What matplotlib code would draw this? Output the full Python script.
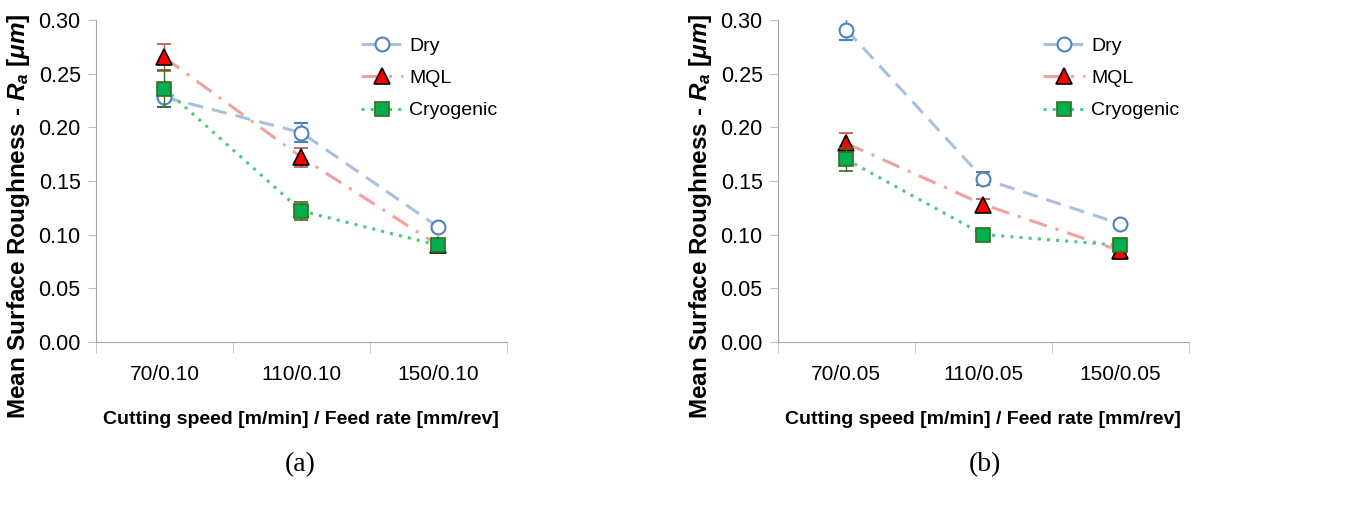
import matplotlib.pyplot as plt
import numpy as np

# categories for each panel
cats_a = ['70/0.10', '110/0.10', '150/0.10']
cats_b = ['70/0.05', '110/0.05', '150/0.05']

# mean surface roughness Ra [um]
dry_a = [0.228, 0.195, 0.107]
mql_a = [0.265, 0.172, 0.090]
cryo_a = [0.236, 0.122, 0.090]
dry_a_err = [0.009, 0.009, 0.003]
mql_a_err = [0.013, 0.009, 0.005]
cryo_a_err = [0.017, 0.008, 0.004]

dry_b = [0.291, 0.152, 0.110]
mql_b = [0.185, 0.128, 0.085]
cryo_b = [0.170, 0.100, 0.090]
dry_b_err = [0.010, 0.006, 0.003]
mql_b_err = [0.010, 0.005, 0.003]
cryo_b_err = [0.011, 0.004, 0.003]

yticks = [0.00, 0.05, 0.10, 0.15, 0.20, 0.25, 0.30]

plt.rcParams['font.family'] = ['Liberation Sans', 'DejaVu Sans']
plt.rcParams['mathtext.fontset'] = 'custom'
plt.rcParams['mathtext.it'] = 'Liberation Sans:italic:bold'
plt.rcParams['mathtext.rm'] = 'Liberation Sans:bold'

fig = plt.figure(figsize=(13.6, 5.11), dpi=100)
ax_a = fig.add_axes([0.0706, 0.331, 0.302, 0.630])
ax_b = fig.add_axes([0.572, 0.331, 0.302, 0.630])


def draw(ax, cats, dry, mql, cryo, dry_e, mql_e, cryo_e):
    x = np.arange(len(cats))
    ax.errorbar(x, dry, yerr=dry_e, color='#a7c0e0', ls=(0, (5, 3)), lw=2.2,
                marker='o', ms=10, mfc='white', mec='#4f81bd', mew=1.5,
                ecolor='#4f81bd', elinewidth=1, capsize=5, label='Dry', zorder=3)
    ax.errorbar(x, mql, yerr=mql_e, color='#f5a09b', ls=(0, (6, 3, 1, 3)), lw=2.2,
                marker='^', ms=12, mfc='#ff0000', mec='black', mew=1.2,
                ecolor='#c0504d', elinewidth=1, capsize=5, label='MQL', zorder=4)
    ax.errorbar(x, cryo, yerr=cryo_e, color='#4cc97a', ls=(0, (1, 2)), lw=2.2,
                marker='s', ms=10, mfc='#00b050', mec='#3a6b1f', mew=1.2,
                ecolor='#3a6b1f', elinewidth=1, capsize=5, label='Cryogenic', zorder=5)
    ax.set_xlim(-0.5, len(cats) - 0.5)
    ax.set_ylim(0, 0.30)
    ax.set_yticks(yticks)
    ax.set_yticklabels([f'{v:.2f}' for v in yticks])
    ax.set_xticks(x)
    ax.set_xticklabels(cats)
    ax.set_xticks(np.arange(-0.5, len(cats)), minor=True)
    ax.tick_params(axis='x', which='major', length=0, pad=17, labelsize=15)
    ax.tick_params(axis='x', which='minor', length=8, color='#bfbfbf')
    ax.tick_params(axis='y', length=6, color='#bfbfbf', labelsize=15.5, pad=5)
    for s in ['top', 'right']:
        ax.spines[s].set_visible(False)
    for s in ['left', 'bottom']:
        ax.spines[s].set_color('#a6a6a6')
    ax.set_xlabel('Cutting speed [m/min] / Feed rate [mm/rev]', fontsize=14,
                  fontweight='bold')
    ax.xaxis.set_label_coords(0.5, -0.215)
    ax.set_ylabel(r'Mean Surface Roughness - $R_a$ [$\mu m$]', fontsize=17.5,
                  fontweight='bold')
    ax.yaxis.set_label_coords(-0.155, 0.39)
    handles, labels = ax.get_legend_handles_labels()
    handles = [h[0] for h in handles]
    ax.legend(handles, labels, loc='upper right', frameon=False, fontsize=14,
              handlelength=2.2, handletextpad=0.3, bbox_to_anchor=(1.02, 1.0),
              labelspacing=0.75)


draw(ax_a, cats_a, dry_a, mql_a, cryo_a, dry_a_err, mql_a_err, cryo_a_err)
draw(ax_b, cats_b, dry_b, mql_b, cryo_b, dry_b_err, mql_b_err, cryo_b_err)

fig.text(300 / 1360, 1 - 465 / 511, '(a)', ha='center', va='center',
         fontsize=20, family='Liberation Serif')
fig.text(985 / 1360, 1 - 465 / 511, '(b)', ha='center', va='center',
         fontsize=20, family='Liberation Serif')

fig.savefig('out.png', dpi=100)
